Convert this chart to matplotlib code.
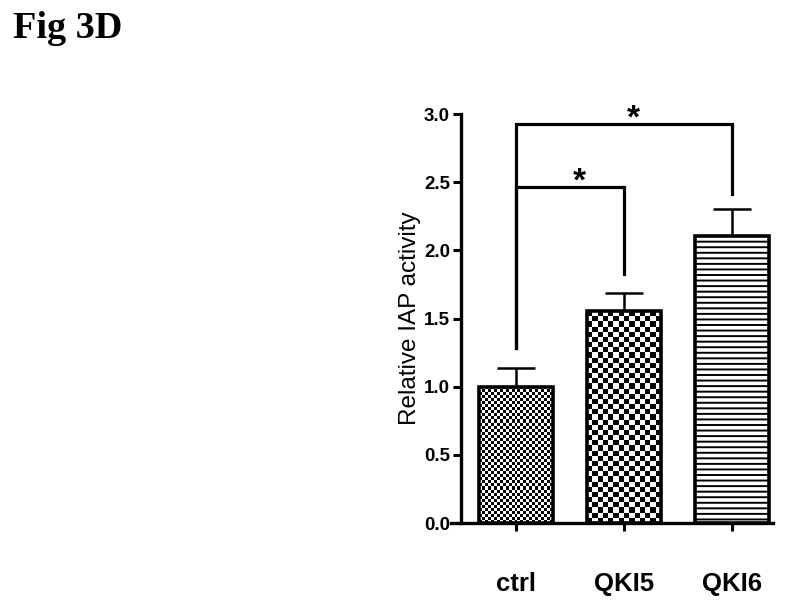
import numpy as np
import matplotlib
matplotlib.use("Agg")
import matplotlib.pyplot as plt

categories = ["ctrl", "QKI5", "QKI6"]
values = [1.0, 1.555, 2.105]
errors = [0.135, 0.135, 0.195]
yticks = [0.0, 0.5, 1.0, 1.5, 2.0, 2.5, 3.0]
ylabel = "Relative IAP activity"
title = "Fig 3D"
# brackets: (left idx, right idx, top y, left leg bottom, right leg bottom)
brackets = [(0, 2, 2.93, 1.28, 2.41), (0, 1, 2.465, 1.28, 1.83)]

plt.rcParams['font.family'] = ['Liberation Sans', 'DejaVu Sans']
plt.rcParams['hatch.linewidth'] = 1.4
plt.rcParams['hatch.color'] = '#333333'
fig = plt.figure(figsize=(8, 6.02), dpi=100)
ax = fig.add_axes([461/800, 1-523/602, 312/800, (523-114)/602])

x = np.arange(len(categories))
width = 74/108
faces = ['none', 'none', 'white']
bars = ax.bar(x, values, width=width, color=faces, edgecolor='black', linewidth=2.6, zorder=3)
ax.errorbar(x, values, yerr=[np.zeros(3), errors], fmt='none', ecolor='black',
            elinewidth=1.8, capsize=14, capthick=1.8, zorder=2)

# checker textures clipped to bars
def checker(bar, cell_px):
    x0, y0 = bar.get_x(), bar.get_y()
    w, h = bar.get_width(), bar.get_height()
    wpx = w * 108
    hpx = h * (409/3.0)
    nx = max(1, int(round(wpx / cell_px)))
    ny = max(1, int(round(hpx / cell_px)))
    arr = (np.add.outer(np.arange(ny), np.arange(nx)) % 2).astype(float)
    im = ax.imshow(arr, cmap='gray', extent=[x0, x0 + w, y0, y0 + h], origin='lower',
                   interpolation='nearest', aspect='auto', zorder=2.5, vmin=0, vmax=1)
    im.set_clip_path(bar)

checker(bars[0], 3.0)
checker(bars[1], 5.2)
bars[2].set_hatch('---')

ax.set_xlim(-55/108, 2 + 41/108)
ax.set_ylim(0, 3.0)
ax.set_yticks(yticks)
ax.set_yticklabels([f"{t:.1f}" for t in yticks], fontweight='bold', fontsize=13.5)
ax.set_xticks(x)
ax.set_xticklabels(categories, fontweight='bold', fontsize=18.5)
ax.tick_params(axis='y', length=6, width=2.2, pad=2)
ax.tick_params(axis='x', length=6, width=2.2, pad=29)
ax.spines['top'].set_visible(False)
ax.spines['right'].set_visible(False)
ax.spines['left'].set_linewidth(2.4)
ax.spines['bottom'].set_linewidth(2.4)
ax.spines['bottom'].set_bounds(-0.6, 2 + 41/108)
ax.set_ylabel(ylabel, fontsize=17.5, labelpad=2)

for (i, j, top, lb, rb) in brackets:
    ax.plot([x[i], x[i], x[j], x[j]], [lb, top, top, rb], color='black', lw=2.3,
            clip_on=False, solid_joinstyle='miter', zorder=4)
    ax.text((x[i] + x[j]) / 2 + 0.09, top - 0.03, '*', ha='center', va='baseline',
            fontsize=24, fontweight='bold', clip_on=False)

fig.text(13/800, 1 - 38/602, title, fontsize=27.5, fontweight='bold',
         family=['Liberation Serif', 'DejaVu Serif'], ha='left', va='baseline')

fig.savefig('out.png', dpi=100)
